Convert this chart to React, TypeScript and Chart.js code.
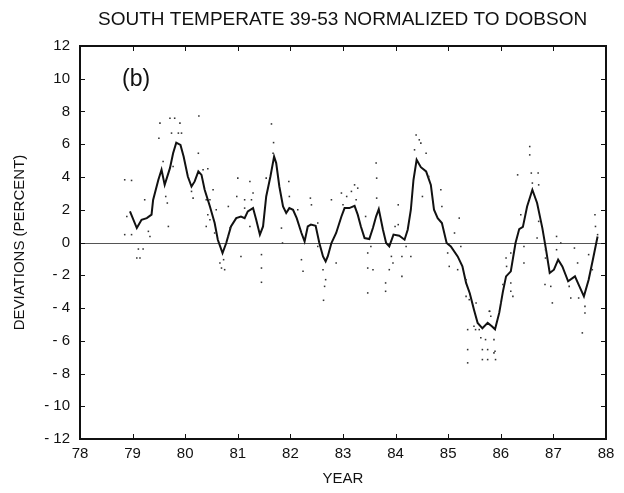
import React, { useEffect, useRef } from "react";
import { Chart, registerables } from "chart.js";

Chart.register(...registerables);

const titleText = "SOUTH TEMPERATE 39-53 NORMALIZED TO DOBSON";
const xTitle = "YEAR";
const yTitle = "DEVIATIONS (PERCENT)";
const panelLabel = "(b)";

const xTicks = [78, 79, 80, 81, 82, 83, 84, 85, 86, 87, 88];
const yTicks = [-12, -10, -8, -6, -4, -2, 0, 2, 4, 6, 8, 10, 12];

// Smoothed curve
const lineYears = [
  78.95, 79.08, 79.17, 79.27, 79.36, 79.39, 79.49, 79.55, 79.61, 79.71, 79.77, 79.83, 79.91, 79.97,
  80.05, 80.12, 80.18, 80.25, 80.31, 80.37, 80.47, 80.56, 80.62, 80.71, 80.78, 80.87, 80.97,
  81.06, 81.13, 81.19, 81.29, 81.35, 81.42, 81.48, 81.54, 81.62, 81.69, 81.73, 81.79, 81.86, 81.92, 81.98,
  82.05, 82.12, 82.21, 82.27, 82.33, 82.39, 82.48, 82.55, 82.62, 82.67, 82.71, 82.78, 82.87, 82.97,
  83.03, 83.12, 83.22, 83.28, 83.34, 83.41, 83.5, 83.57, 83.63, 83.68, 83.76, 83.82, 83.88, 83.96,
  84.07, 84.17, 84.23, 84.29, 84.34, 84.4, 84.48, 84.58, 84.67, 84.73, 84.8, 84.88, 84.97,
  85.05, 85.18, 85.27, 85.34, 85.41, 85.49, 85.56, 85.65, 85.75, 85.83, 85.89, 85.97,
  86.04, 86.1, 86.19, 86.28, 86.35, 86.42, 86.5, 86.6, 86.69, 86.79, 86.86, 86.93,
  87.01, 87.09, 87.17, 87.28, 87.41, 87.48, 87.58, 87.67, 87.75, 87.84,
];
const lineValues = [
  1.9, 0.88, 1.39, 1.49, 1.7, 2.6, 3.83, 4.44, 3.52, 4.54, 5.45, 6.1, 5.96, 5.25,
  4.03, 3.42, 3.73, 4.34, 4.13, 3.22, 2.2, 1.19, 0.17, -0.64, -0.03, 0.98, 1.49,
  1.59, 1.49, 1.9, 2.1, 1.39, 0.48, 0.98, 2.81, 4.03, 5.25, 4.85, 3.42, 2.2, 1.8, 2.1,
  2.0, 1.49, 0.58, 0.07, 0.98, 1.09, 1.02, -0.03, -0.85, -1.15, -0.85, -0.03, 0.58, 1.59,
  2.1, 2.1, 2.24, 1.7, 0.98, 0.27, 0.21, 0.9, 1.6, 2.04, 0.78, -0.03, -0.24, 0.48,
  0.41, 0.17, 0.78, 2.0, 3.83, 5.05, 4.6, 4.34, 3.52, 2.0, 1.49, 1.19, -0.03,
  -0.24, -0.85, -1.46, -2.47, -3.1, -4.1, -4.91, -5.24, -4.91, -5.12, -5.3, -4.3,
  -3.0, -2.07, -1.76, -0.03, 0.82, 0.95, 2.2, 3.22, 2.41, 0.88, -0.44, -1.86,
  -1.66, -1.05, -1.46, -2.37, -2.07, -2.57, -3.29, -2.27, -1.05, 0.37,
];

// Individual measurements (dots)
const dotYears = [
  78.85, 78.98, 78.89, 78.85, 78.98, 79.11, 79.2, 79.08, 79.14, 79.23, 79.3, 79.33,
  79.52, 79.5, 79.58, 79.63, 79.66, 79.68, 79.71, 79.74, 79.8, 79.9, 79.87, 79.93, 79.77,
  80.26, 80.25, 80.34, 80.43, 80.12, 80.15, 80.4, 80.47, 80.53, 80.43, 80.47, 80.4, 80.59, 80.56,
  80.66, 80.73, 80.75, 80.69, 80.82, 80.85, 80.82, 81.0, 80.98, 81.06, 81.13,
  81.64, 81.68, 81.67, 81.54, 81.23, 81.26, 81.29, 81.13, 81.23, 81.45, 81.45, 81.45,
  81.83, 81.85, 81.97, 81.98, 82.14, 82.21, 82.24, 82.38, 82.4, 82.52, 82.52,
  82.62, 82.67, 82.65, 82.63, 82.78, 82.87, 82.97, 83.0, 83.07, 83.16, 83.22, 83.28, 83.25,
  83.43, 83.47, 83.47, 83.47, 83.53, 83.63, 83.64, 83.64,
  83.57, 83.81, 83.81, 83.92, 83.95, 83.88, 83.99, 84.05, 84.12, 84.12, 84.2, 84.29, 84.05,
  84.36, 84.45, 84.39, 84.48, 84.58, 84.51, 84.63, 84.86, 84.88, 85.21, 85.12, 84.99, 85.02,
  85.24, 85.18, 85.34, 85.34, 85.4, 85.37, 85.37, 85.37, 85.52, 85.53, 85.59, 85.62, 85.65,
  85.65, 85.71, 85.75, 85.78, 85.81, 85.87, 85.89, 85.9, 86.1, 86.11, 86.04, 86.0, 86.19,
  85.75, 85.87, 85.79, 85.49, 86.19, 86.19, 86.23, 86.32, 86.38, 86.44, 86.44,
  86.55, 86.55, 86.58, 86.6, 86.71, 86.72, 86.72, 86.69, 86.85, 86.85, 86.84, 86.95, 86.98,
  87.06, 87.06, 87.14, 87.3, 87.33, 87.4, 87.46, 87.48, 87.55, 87.6, 87.6, 87.67, 87.74,
  87.79, 87.8, 87.84,
];
const dotValues = [
  3.83, 3.79, 1.59, 0.48, 0.48, -0.4, -0.4, -0.95, -0.95, 2.61, 0.68, 0.37,
  7.29, 6.37, 4.95, 2.81, 2.41, 0.98, 7.59, 6.68, 7.59, 7.29, 6.68, 6.68, 4.64,
  7.73, 5.45, 4.44, 4.5, 3.12, 2.71, 2.61, 2.61, 3.22, 1.7, 1.39, 0.98, 2.0, 0.58,
  -1.25, -1.05, -1.66, -1.56, 2.2, 0.88, 0.37, 3.93, 2.81, -0.85, 2.61,
  7.24, 6.1, 5.45, 3.93, 3.73, 2.61, 3.02, 2.1, 0.98, -0.74, -1.56, -2.43,
  0.88, -0.03, 3.73, 2.81, 2.0, -1.05, -1.76, 2.71, 2.3, 1.19, -0.24,
  -1.66, -2.27, -2.68, -3.53, 2.61, -1.25, 3.02, 2.3, 2.81, 3.12, 3.52, 3.32, 2.61,
  1.59, -0.64, -1.56, -3.08, -0.24, 4.85, 3.93, 2.71,
  -1.66, -2.47, -2.98, -0.85, -1.25, -1.66, 0.98, 1.09, -2.07, -0.85, -0.24, -0.85, 2.3,
  5.66, 6.27, 6.57, 6.07, 5.45, 2.81, 4.03, 3.22, 2.2, 1.49, 0.58, -0.64, -1.46,
  -0.24, -1.66, -2.27, -3.29, -3.49, -5.32, -6.54, -7.35, -5.32, -3.69, -5.32, -5.82, -6.54,
  -7.15, -5.93, -6.54, -4.2, -4.5, -5.93, -6.64, -7.15, -0.95, -1.46, -2.57, -3.69, -0.64,
  -7.15, -6.74, -4.2, -5.12, -2.47, -2.98, -3.29, 4.13, 1.7, -0.24, -1.25,
  5.86, 5.35, 4.24, 3.63, 4.24, 3.52, 1.29, 0.27, -0.44, -0.95, -2.57, -2.68, -3.69,
  0.37, -0.44, -0.03, -2.68, -3.39, -0.34, -1.25, -3.39, -5.52, -3.9, -4.3, -0.74, -1.66,
  1.7, 0.98, 0.48,
];

const FONT = "'Liberation Sans', Arial, Helvetica, sans-serif";

const decorPlugin = {
  id: "decor",
  beforeDatasetsDraw(chart: any) {
    const { ctx, scales } = chart;
    const sx = scales.x;
    const sy = scales.y;
    const y0 = Math.round(sy.getPixelForValue(0));
    const L = Math.round(sx.getPixelForValue(xTicks[0]));
    const R = Math.round(sx.getPixelForValue(xTicks[xTicks.length - 1]));
    ctx.save();
    ctx.fillStyle = "#555555";
    ctx.fillRect(L, y0, R - L, 1);
    ctx.restore();
  },
  afterDraw(chart: any) {
    const { ctx, scales } = chart;
    const sx = scales.x;
    const sy = scales.y;
    const L = Math.round(sx.getPixelForValue(xTicks[0]));
    const R = Math.round(sx.getPixelForValue(xTicks[xTicks.length - 1]));
    const T = Math.round(sy.getPixelForValue(yTicks[yTicks.length - 1]));
    const B = Math.round(sy.getPixelForValue(yTicks[0]));
    ctx.save();
    ctx.fillStyle = "#111111";
    ctx.fillRect(L - 1, T - 1, R - L + 2, 2);
    ctx.fillRect(L - 1, B - 1, R - L + 2, 2);
    ctx.fillRect(L - 1, T - 1, 2, B - T + 2);
    ctx.fillRect(R - 1, T - 1, 2, B - T + 2);
    const tl = 5;
    for (const v of xTicks) {
      const px = Math.round(sx.getPixelForValue(v));
      ctx.fillRect(px, B - tl, 1, tl);
      ctx.fillRect(px, T, 1, tl);
    }
    for (const v of yTicks) {
      const py = Math.round(sy.getPixelForValue(v));
      ctx.fillRect(L, py, tl, 1);
      ctx.fillRect(R - tl, py, tl, 1);
    }
    ctx.textBaseline = "alphabetic";
    ctx.textAlign = "left";
    ctx.font = `19px ${FONT}`;
    ctx.fillText(titleText, 98, 25);
    ctx.font = `23px ${FONT}`;
    ctx.fillText(panelLabel, 122, 86);
    ctx.textAlign = "center";
    ctx.font = `15px ${FONT}`;
    ctx.fillText(xTitle, (L + R) / 2, 483);
    ctx.translate(24, (T + B) / 2);
    ctx.rotate(-Math.PI / 2);
    ctx.fillText(yTitle, 0, 0);
    ctx.restore();
  },
};

export default function App() {
  const ref = useRef<HTMLCanvasElement | null>(null);
  useEffect(() => {
    if (!ref.current) return;
    const linePts = lineYears.map((x, i) => ({ x, y: lineValues[i] }));
    const dotPts = dotYears.map((x, i) => ({ x, y: dotValues[i] }));
    const chart = new Chart(ref.current, {
      type: "scatter",
      data: {
        datasets: [
          {
            type: "scatter",
            data: dotPts,
            pointStyle: "rect",
            pointRadius: 1.1,
            borderWidth: 0,
            backgroundColor: "#333",
          } as any,
          {
            type: "line",
            data: linePts,
            borderColor: "#111",
            borderWidth: 2,
            pointRadius: 0,
            tension: 0,
          } as any,
        ],
      },
      options: {
        animation: false,
        responsive: false,
        devicePixelRatio: 1,
        layout: { padding: { left: 0, top: 46, right: 18, bottom: 0 } },
        plugins: { legend: { display: false } },
        scales: {
          x: {
            type: "linear",
            min: xTicks[0],
            max: xTicks[xTicks.length - 1],
            afterFit: (s: any) => { s.height = 54; },
            grid: { display: false, drawTicks: false },
            border: { display: true, color: "#111", width: 2 },
            ticks: { stepSize: 1, color: "#111", padding: 6, font: { family: FONT, size: 15 }, maxRotation: 0, autoSkip: false },
          },
          y: {
            type: "linear",
            min: yTicks[0],
            max: yTicks[yTicks.length - 1],
            afterFit: (s: any) => { s.width = 80; },
            grid: { display: false, drawTicks: false },
            border: { display: true, color: "#111", width: 2 },
            ticks: {
              stepSize: 2,
              color: "#111",
              padding: 10,
              font: { family: FONT, size: 15 },
              callback: (v: any) => (Number(v) < 0 ? "- " + Math.abs(Number(v)) : String(v)),
            },
          },
        },
      },
      plugins: [decorPlugin],
    });
    return () => chart.destroy();
  }, []);
  return (
    <div style={{ position: "fixed", left: 0, top: 0, width: 624, height: 493, background: "#fff" }}>
      <canvas ref={ref} width={624} height={493} />
      <div
        style={{
          position: "absolute",
          left: 79,
          top: 45,
          width: 528,
          height: 395,
          boxSizing: "border-box",
          border: "2px solid #111",
          pointerEvents: "none",
        }}
      />
    </div>
  );
}
